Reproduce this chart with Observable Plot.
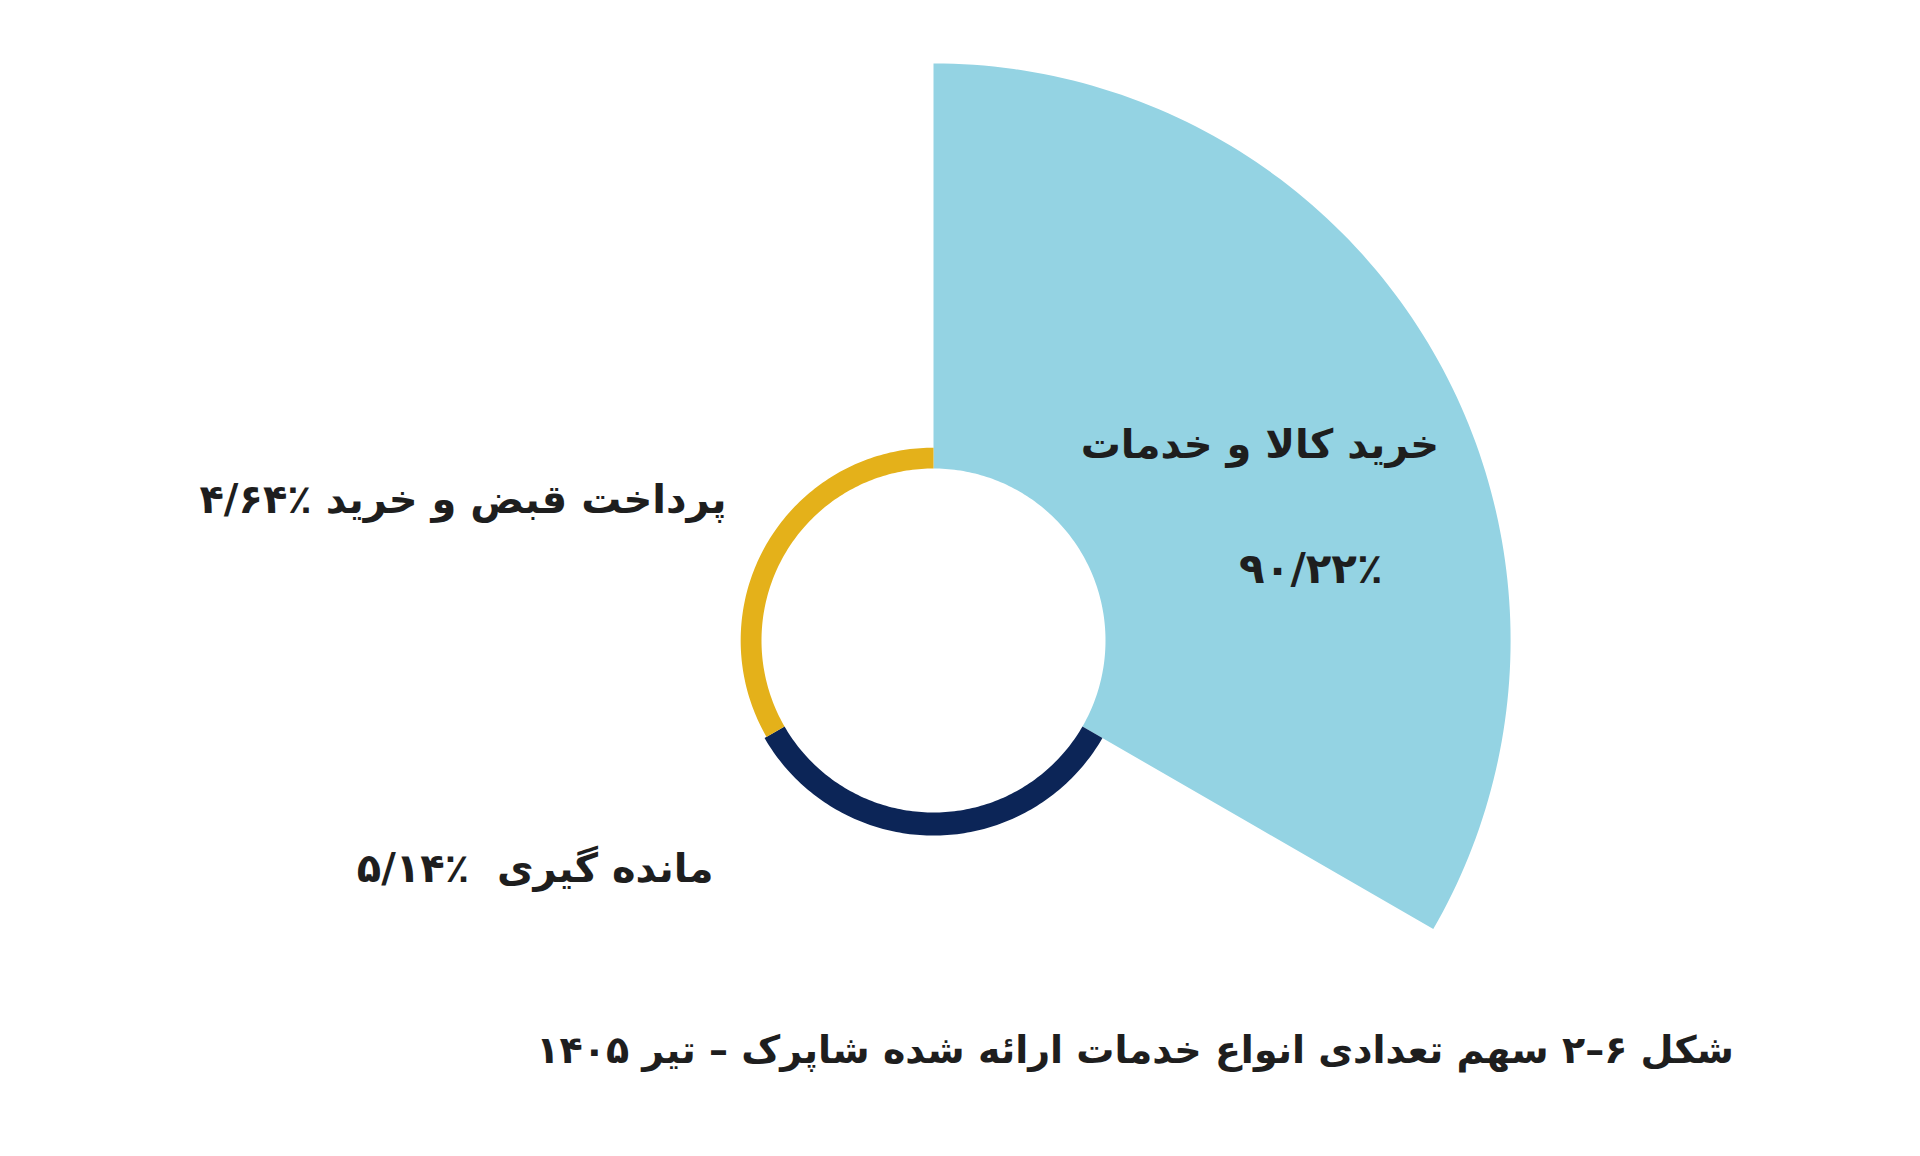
<!DOCTYPE html>
<html>
<head>
<meta charset="utf-8">
<script src="https://cdn.jsdelivr.net/npm/d3@7"></script>
<script src="https://cdn.jsdelivr.net/npm/@observablehq/plot@0.6"></script>
<style>
  html, body { margin: 0; padding: 0; background: #ffffff; }
  #wrap { position: relative; width: 1920px; height: 1156px; overflow: hidden; }
  #caption {
    position: absolute; top: 1031px; right: 186px;
    direction: rtl; white-space: pre;
    font-family: "DejaVu Sans", sans-serif; font-weight: bold;
    font-size: 38px; line-height: 1; color: #1e1e1e;
  }
</style>
</head>
<body>
<div id="wrap">
  <div id="chart"></div>
  <div id="caption"></div>
</div>
<script>
// ---- data ----
const categories = ["خرید کالا و خدمات", "مانده گیری", "پرداخت قبض و خرید"];
const shares = [90.22, 5.14, 4.64];
const shareLabels = ["۹۰/۲۲٪", "۵/۱۴٪", "۴/۶۴٪"];
const colors = ["#94d3e3", "#0c2557", "#e4b11a"];
const captionText = "شکل ۶–۲ سهم تعدادی انواع خدمات ارائه شده شاپرک – تیر ۱۴۰۵";

// ---- layout ----
const W = 1920, H = 1000;          // svg size
const CX = 933, CY = 640;          // polar centre in pixels
const PX = 10;                     // pixels per degree of angular distance
const FONT = "'DejaVu Sans', sans-serif";
const LRM = "\u200E";              // keeps the percent sign to the right of the number

// polar chart on an azimuthal-equidistant projection centred on the pole:
// angle (clockwise from top) -> longitude, distance from centre -> 90 - latitude
const lon = theta => 180 - theta;
const lat = dist => 90 - dist;
const radius = d3.scaleLinear().domain([0, 100]).range([17.2, 62.1]); // degrees

const n = categories.length;
const step = 360 / n;
const slices = categories.map((name, i) => {
  const a0 = i * step, a1 = (i + 1) * step;
  const ro = radius(shares[i]), ri = radius(0);
  const ring = [];
  for (let a = a0; a <= a1; a += 1) ring.push([lon(a), lat(ro)]);
  for (let a = a1; a >= a0; a -= 1) ring.push([lon(a), lat(ri)]);
  ring.push(ring[0]);
  return {
    type: "Feature",
    properties: {name, share: shares[i], label: shareLabels[i], mid: (a0 + a1) / 2, ro, ri},
    geometry: {type: "Polygon", coordinates: [ring]}
  };
});

// projection domain chosen so that the pole lands at (CX, CY) with PX px/degree
const domain = {
  type: "MultiPoint",
  coordinates: [
    [lon(270), lat(CX / PX)],
    [lon(90), lat((W - CX) / PX)],
    [lon(0), lat(CY / PX)],
    [lon(180), lat((H - CY) / PX)]
  ]
};

const px = d => lon(d.properties.mid);
const py = d => lat((d.properties.ro + d.properties.ri) / 2);

function label(i, textFn, opts) {
  return Plot.text([slices[i]], {
    x: px, y: py, text: textFn,
    fontFamily: FONT, fontWeight: "bold", fontSize: 40, fill: "#1e1e1e",
    ...opts
  });
}

const chart = Plot.plot({
  width: W,
  height: H,
  margin: 0,
  projection: {type: "azimuthal-equidistant", rotate: [0, -90], domain},
  color: {domain: categories, range: colors},
  style: {direction: "rtl", fontFamily: FONT, background: "#ffffff"},
  marks: [
    Plot.geo(slices, {fill: d => d.properties.name, stroke: "none"}),
    label(0, d => d.properties.name, {textAnchor: "middle", dx: 2, dy: -8}),
    label(0, d => d.properties.label, {textAnchor: "middle", dx: 53, dy: 116, fontSize: 42}),
    label(2, d => d.properties.name + " " + LRM + d.properties.label, {textAnchor: "start", dx: -49, dy: -49}),
    label(1, d => d.properties.name + "\u00a0\u00a0" + LRM + d.properties.label, {textAnchor: "start", dx: -220, dy: 45})
  ]
});

document.getElementById("chart").appendChild(chart);
document.getElementById("caption").textContent = captionText;
</script>
</body>
</html>
